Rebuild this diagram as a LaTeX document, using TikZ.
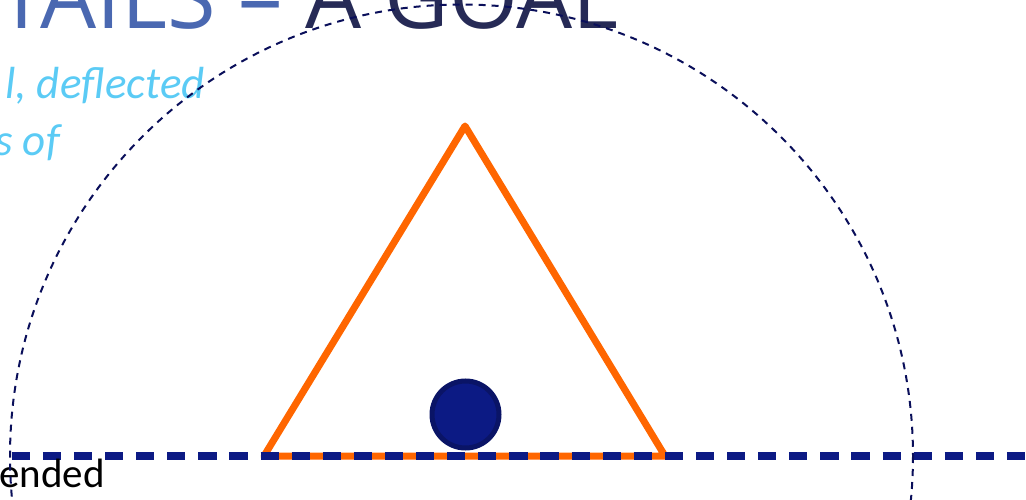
\documentclass[tikz,border=0pt]{standalone}
\usepackage{fontspec}
\setmainfont{Carlito}
\newfontfamily\titlefont{Open Sans}
\definecolor{navy}{HTML}{0C1A84}
\definecolor{navydark}{HTML}{0A1466}
\definecolor{circdash}{HTML}{0A0F5A}
\definecolor{orng}{HTML}{FF6600}
\definecolor{tblue}{HTML}{4A68B1}
\definecolor{tdark}{HTML}{262A56}
\definecolor{lblue}{HTML}{5BCBF5}
\tikzset{
  tri/.style={draw=orng, line width=7pt, line join=round},
  baseline dash/.style={draw=navy, line width=8.5pt, dash pattern=on 18.2pt off 12.9pt},
  ringdash/.style={draw=circdash, line width=2pt, dash pattern=on 7pt off 6pt},
  ball/.style={circle, draw=navydark, fill=navy, line width=5pt, minimum size=67pt, inner sep=0pt},
  titletext/.style={anchor=base east, inner sep=0pt, font=\titlefont\fontsize{88.6}{88.6}\selectfont},
  subtext/.style={anchor=base east, inner sep=0pt, text=lblue, font=\itshape\fontsize{45}{45}\selectfont},
  bodytext/.style={anchor=base west, inner sep=0pt, text=black, font=\fontsize{41}{41}\selectfont}
}
\begin{document}
\begin{tikzpicture}[x=1pt,y=-1pt]
\useasboundingbox (0,0) rectangle (1026,500);
\clip (0,0) rectangle (1026,500);
\coordinate (apex) at (465,126);
\coordinate (bl) at (264,456);
\coordinate (br) at (665,456);
\draw[tri] (bl) -- (apex) -- (br) -- cycle;
\coordinate (ls) at (11.7,456);
\coordinate (le) at (1040,456);
\draw[baseline dash] (ls) -- (le);
\node[ball] (ball) at (465.5,414.5) {};
\node[titletext] (title) at (619,29) {\textcolor{tblue}{TAILS –} \textcolor{tdark}{A GOAL}};
\node[subtext] (sub1) at (205,99) {l, deflected};
\node[subtext] (sub2) at (60,156) {s of};
\node[bodytext] (body) at (-1,487) {ended};
\coordinate (cc) at (461.5,456);
\draw[ringdash] (cc) circle[radius=451.5];
\end{tikzpicture}
\end{document}
